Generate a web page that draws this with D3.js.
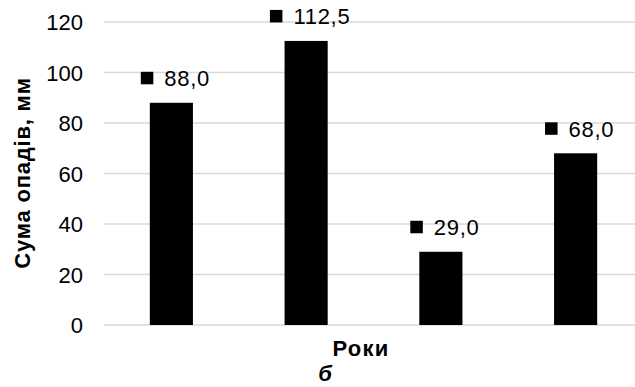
<!DOCTYPE html>
<html>
<head>
<meta charset="utf-8">
<script src="https://cdn.jsdelivr.net/npm/d3@7"></script>
<style>
  html, body { margin: 0; padding: 0; background: #fff; }
  svg { display: block; }
  text { font-family: "Liberation Sans", Arial, sans-serif; fill: #000; }
</style>
</head>
<body>
<svg id="chart" width="635" height="387"></svg>
<script>
const categories = ["1", "2", "3", "4"];
const values = [88.0, 112.5, 29.0, 68.0];
const valueLabels = ["88,0", "112,5", "29,0", "68,0"];
const yTicks = [0, 20, 40, 60, 80, 100, 120];
const yTitle = "Сума опадів, мм";
const xTitle = "Роки";
const caption = "б";

const svg = d3.select("#chart");
const W = 635;

const y = d3.scaleLinear().domain([0, 120]).range([325, 22]);
const x = d3.scaleBand().domain(categories).range([104, 643])
  .paddingInner(0.68).paddingOuter(0.34);

// gridlines
svg.append("g").selectAll("line").data(yTicks).join("line")
  .attr("x1", 104).attr("x2", W)
  .attr("y1", d => y(d)).attr("y2", d => y(d))
  .attr("stroke", "#d9d9d9").attr("stroke-width", 1.5);

// y axis tick labels
const yAxis = d3.axisLeft(y).tickValues(yTicks).tickSize(0).tickPadding(0)
  .tickFormat(d3.format("d"));
const gy = svg.append("g").attr("transform", "translate(83,0)").call(yAxis);
gy.select(".domain").remove();
gy.selectAll("text").attr("font-size", 22).attr("font-family", "Liberation Sans, Arial, sans-serif")
  .attr("fill", "#000").attr("dy", "0.35em");

// bars
svg.append("g").selectAll("rect").data(values).join("rect")
  .attr("x", (d, i) => x(categories[i]))
  .attr("width", x.bandwidth())
  .attr("y", d => y(d))
  .attr("height", d => y(0) - y(d))
  .attr("fill", "#000");

// data labels with legend key
const lg = svg.append("g").selectAll("g").data(values).join("g");
lg.each(function(d, i) {
  const g = d3.select(this);
  const t = g.append("text").attr("font-size", 22).attr("letter-spacing", 0.7).text(valueLabels[i]);
  const tw = t.node().getComputedTextLength();
  const sq = 12.5, gap = 11;
  const total = sq + gap + tw;
  const cx = x(categories[i]) + x.bandwidth() / 2 + 4;
  const left = cx - total / 2;
  const base = y(d) - 16.5;
  g.append("rect").attr("x", left).attr("y", base - 14.5).attr("width", sq).attr("height", sq).attr("fill", "#000");
  t.attr("x", left + sq + gap).attr("y", base);
});

// y title
svg.append("text")
  .attr("transform", "translate(30,173) rotate(-90)")
  .attr("text-anchor", "middle")
  .attr("font-size", 22).attr("font-weight", "bold").attr("letter-spacing", 0.8)
  .text(yTitle);

// x title
svg.append("text")
  .attr("x", 361).attr("y", 356)
  .attr("text-anchor", "middle")
  .attr("font-size", 22).attr("font-weight", "bold").attr("letter-spacing", 1.2)
  .text(xTitle);

// caption
svg.append("text")
  .attr("x", 325).attr("y", 381)
  .attr("text-anchor", "middle")
  .attr("font-size", 22).attr("font-weight", "bold").attr("font-style", "italic")
  .text(caption);
</script>
</body>
</html>
